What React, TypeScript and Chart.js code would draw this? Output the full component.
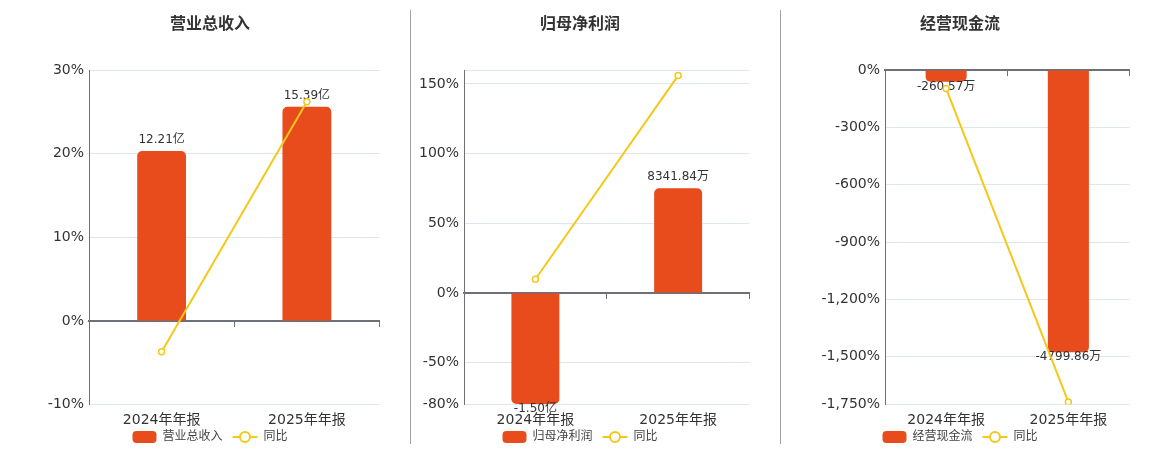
import { useEffect, useRef } from 'react';
import { Chart, registerables } from 'chart.js';

Chart.register(...registerables);

const FONT = '"DejaVu Sans", "Noto Sans CJK SC", sans-serif';
const BAR_COLOR = '#E84B1C';
const LINE_COLOR = '#F4C81A';
const AXIS_COLOR = '#6E7079';
const GRID_COLOR = '#E0E6F1';
const TEXT_COLOR = '#333333';
const LEGEND_TEXT = '#444444';

const categories = ['2024年年报', '2025年年报'];
const yoyName = '同比';

// 营业总收入 (bar heights read on the % axis)
const revenueName = '营业总收入';
const revenueBarHeights = [20.3, 25.6];
const revenueBarLabels = ['12.21亿', '15.39亿'];
const revenueYoY = [-3.7, 26.2];
const revenueTicks = [-10, 0, 10, 20, 30];

// 归母净利润
const profitName = '归母净利润';
const profitBarHeights = [-79.6, 75.2];
const profitBarLabels = ['-1.50亿', '8341.84万'];
const profitYoY = [9.9, 156];
const profitTicks = [-80, -50, 0, 50, 100, 150, 160];
const profitUnlabeled = [160];

// 经营现金流
const cashName = '经营现金流';
const cashBarHeights = [-61, -1476];
const cashBarLabels = ['-260.57万', '-4799.86万'];
const cashYoY = [-97, -1737];
const cashTicks = [-1750, -1500, -1200, -900, -600, -300, 0];

type PanelProps = {
  name: string;
  barHeights: number[];
  barLabels: string[];
  yoy: number[];
  ticks: number[];
  unlabeled?: number[];
  left: number;
  yAxisWidth: number;
};

const CANVAS_W = 350;
const CANVAS_H = 450;
const LEGEND_CY = 437;

function Panel({ name, barHeights, barLabels, yoy, ticks, unlabeled = [], left, yAxisWidth }: PanelProps) {
  const ref = useRef<HTMLCanvasElement | null>(null);

  useEffect(() => {
    if (!ref.current) return;
    Chart.defaults.font.family = FONT;

    const labelPlugin = {
      id: 'barValueLabels',
      afterDatasetDraw(chart: any, args: any) {
        if (args.index !== 0) return;
        const ctx = chart.ctx;
        ctx.save();
        ctx.font = `12px ${FONT}`;
        ctx.fillStyle = TEXT_COLOR;
        ctx.textAlign = 'center';
        ctx.textBaseline = 'middle';
        args.meta.data.forEach((bar: any, i: number) => {
          const v = barHeights[i];
          const { x, y } = bar.getProps(['x', 'y'], true);
          ctx.fillText(barLabels[i], x, v >= 0 ? y - 11 : y + 5);
        });
        ctx.restore();
      },
    };

    const legendPlugin = {
      id: 'panelLegend',
      afterDraw(chart: any) {
        const ctx = chart.ctx;
        const datasets = chart.data.datasets;
        ctx.save();
        ctx.font = `12px ${FONT}`;
        ctx.textBaseline = 'middle';
        ctx.textAlign = 'left';
        const t1 = datasets[0].label as string;
        const t2 = datasets[1].label as string;
        const w1 = 24 + 6 + ctx.measureText(t1).width;
        const w2 = 25 + 6 + ctx.measureText(t2).width;
        const gap = 10;
        const total = w1 + gap + w2;
        let x = chart.width / 2 - total / 2;
        const cy = LEGEND_CY;
        // bar item
        ctx.fillStyle = datasets[0].backgroundColor;
        ctx.beginPath();
        ctx.roundRect(x, cy - 6, 24, 12, 4);
        ctx.fill();
        ctx.fillStyle = LEGEND_TEXT;
        ctx.fillText(t1, x + 30, cy);
        x += w1 + gap;
        // line item
        ctx.strokeStyle = datasets[1].borderColor;
        ctx.lineWidth = 2;
        ctx.beginPath();
        ctx.moveTo(x, cy);
        ctx.lineTo(x + 25, cy);
        ctx.stroke();
        ctx.beginPath();
        ctx.arc(x + 12.5, cy, 5, 0, Math.PI * 2);
        ctx.fillStyle = '#ffffff';
        ctx.fill();
        ctx.stroke();
        ctx.fillStyle = LEGEND_TEXT;
        ctx.fillText(t2, x + 31, cy);
        ctx.restore();
      },
    };

    const chart = new Chart(ref.current, {
      type: 'bar',
      data: {
        labels: categories,
        datasets: [
          {
            type: 'bar',
            label: name,
            data: barHeights,
            backgroundColor: BAR_COLOR,
            borderRadius: 5,
            borderSkipped: 'start',
            barPercentage: 0.336,
            categoryPercentage: 1,
            order: 2,
          } as any,
          {
            type: 'line',
            label: yoyName,
            data: yoy,
            borderColor: LINE_COLOR,
            borderWidth: 2,
            pointRadius: 3,
            pointBorderWidth: 1.5,
            pointBackgroundColor: '#ffffff',
            pointBorderColor: LINE_COLOR,
            tension: 0,
            order: 1,
          } as any,
        ],
      },
      options: {
        responsive: false,
        animation: false,
        events: [],
        layout: { padding: { left: 5, right: 5, top: 0, bottom: 14.7 } },
        plugins: {
          tooltip: { enabled: false },
          legend: { display: false },
          title: {
            display: true,
            text: name,
            color: TEXT_COLOR,
            font: { size: 16, weight: 'bold', family: FONT },
            padding: { top: 15.5, bottom: 35.3 },
          },
        },
        scales: {
          x: {
            type: 'category',
            offset: true,
            grid: { display: false, drawTicks: false },
            border: { display: false },
            ticks: {
              color: TEXT_COLOR,
              font: { size: 14, family: FONT },
              padding: 7,
              maxRotation: 0,
              autoSkip: false,
            },
          },
          x2: {
            type: 'category',
            position: { y: 0 } as any,
            offset: true,
            grid: {
              display: true,
              offset: true,
              drawOnChartArea: false,
              drawTicks: true,
              tickLength: 5,
              color: AXIS_COLOR,
              lineWidth: 1,
            },
            border: { display: true, color: AXIS_COLOR, width: 2 },
            ticks: { display: false },
          } as any,
          y: {
            type: 'linear',
            position: 'left',
            min: Math.min(...ticks),
            max: Math.max(...ticks),
            afterBuildTicks: (s: any) => {
              s.ticks = ticks.map((v) => ({ value: v }));
            },
            grid: { color: GRID_COLOR, drawTicks: false, lineWidth: 1 },
            border: { display: true, color: AXIS_COLOR, width: 1 },
            ticks: {
              color: TEXT_COLOR,
              font: { size: 14, family: FONT },
              padding: 5,
              callback: (v: any) =>
                unlabeled.includes(Number(v)) ? '' : Number(v).toLocaleString('en-US') + '%',
            },
            afterFit: (s: any) => {
              s.width = yAxisWidth;
            },
          },
        },
      },
      plugins: [labelPlugin, legendPlugin],
    } as any);

    return () => chart.destroy();
  }, []);

  return (
    <div
      style={{
        position: 'absolute',
        left,
        top: 0,
        width: CANVAS_W,
        height: CANVAS_H,
      }}
    >
      <canvas
        ref={ref}
        width={CANVAS_W}
        height={CANVAS_H}
        style={{ display: 'block', width: CANVAS_W, height: CANVAS_H }}
      />
    </div>
  );
}

export default function App() {
  useEffect(() => {
    document.body.style.margin = '0';
  }, []);
  return (
    <div
      style={{
        position: 'fixed',
        left: 0,
        top: 0,
        width: 1160,
        height: 450,
        overflow: 'hidden',
        background: '#ffffff',
      }}
    >
      <Panel
        name={revenueName}
        barHeights={revenueBarHeights}
        barLabels={revenueBarLabels}
        yoy={revenueYoY}
        ticks={revenueTicks}
        left={35}
        yAxisWidth={49}
      />
      <Panel
        name={profitName}
        barHeights={profitBarHeights}
        barLabels={profitBarLabels}
        yoy={profitYoY}
        ticks={profitTicks}
        unlabeled={profitUnlabeled}
        left={405}
        yAxisWidth={54}
      />
      <Panel
        name={cashName}
        barHeights={cashBarHeights}
        barLabels={cashBarLabels}
        yoy={cashYoY}
        ticks={cashTicks}
        left={785}
        yAxisWidth={95}
      />
      <div style={{ position: 'absolute', left: 410, top: 10, width: 1, height: 434, background: '#a0a0a0' }} />
      <div style={{ position: 'absolute', left: 780, top: 10, width: 1, height: 434, background: '#a0a0a0' }} />
    </div>
  );
}
